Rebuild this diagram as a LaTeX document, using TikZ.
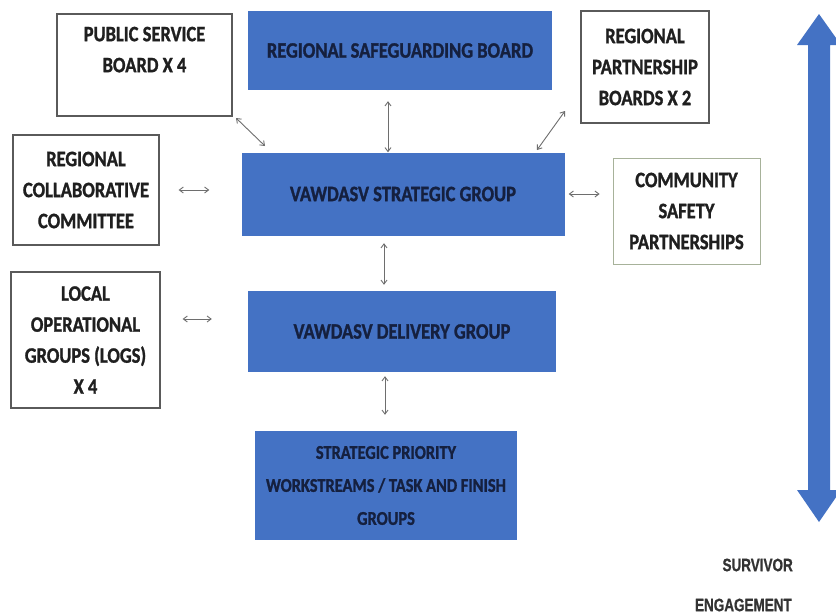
\documentclass[tikz,border=0pt]{standalone}
\usepackage{fontspec}
\setmainfont{Carlito}
\newfontfamily\boxfont[FakeStretch=0.84,FakeBold=1.2]{Carlito}
\newfontfamily\lblfont[FakeStretch=0.75,FakeBold=0.8]{Liberation Sans}
\usetikzlibrary{arrows.meta}
\definecolor{boxblue}{HTML}{4472C4}
\definecolor{navy}{HTML}{15203F}
\definecolor{edgegray}{HTML}{5A5A5A}
\definecolor{linkgray}{HTML}{6E6E6E}
\definecolor{cspedge}{HTML}{A7B29A}
\begin{document}
\begin{tikzpicture}[x=1pt,y=-1pt,
  bluebox/.style={rectangle, fill=boxblue, draw=none, align=center, text=navy,
    font=\boxfont\bfseries\fontsize{22}{31}\selectfont, inner sep=0pt},
  whitebox/.style={rectangle, fill=white, draw=edgegray, line width=1.3pt, align=center, text=black!88,
    font=\boxfont\bfseries\fontsize{22}{31}\selectfont, inner sep=0pt},
  link/.style={draw=linkgray, line width=0.9pt, {Straight Barb[length=4pt,width=6pt]}-{Straight Barb[length=4pt,width=6pt]}},
  lbl/.style={font=\lblfont\bfseries\fontsize{18}{20}\selectfont, text=black!80, inner sep=0pt}
]
\useasboundingbox (0,0) rectangle (836,614);
\fill[white] (0,0) rectangle (836,614);

% blue boxes
\node[bluebox, minimum width=304pt, minimum height=79pt] (rsb) at (400,50.5) {REGIONAL SAFEGUARDING BOARD};
\node[bluebox, minimum width=323pt, minimum height=83pt] (sg) at (403,194) {VAWDASV STRATEGIC GROUP};
\node[bluebox, minimum width=308pt, minimum height=81pt] (del) at (402,331.5) {VAWDASV DELIVERY GROUP};
\node[bluebox, minimum width=262pt, minimum height=109pt, font=\boxfont\bfseries\fontsize{19.5}{33}\selectfont] (sp) at (386,485.5) {STRATEGIC PRIORITY\\WORKSTREAMS / TASK AND FINISH\\GROUPS};

% white boxes
\node[whitebox, minimum width=175pt, minimum height=102pt] (psb) at (144.5,65) {PUBLIC SERVICE\\BOARD X 4\\\mbox{}};
\node[whitebox, minimum width=128pt, minimum height=112pt] (rpb) at (645,67) {REGIONAL\\PARTNERSHIP\\BOARDS X 2};
\node[whitebox, minimum width=146pt, minimum height=110pt] (rcc) at (86,190) {REGIONAL\\COLLABORATIVE\\COMMITTEE};
\node[whitebox, draw=cspedge, line width=0.8pt, minimum width=147pt, minimum height=106pt] (csp) at (686.5,211) {COMMUNITY\\SAFETY\\PARTNERSHIPS};
\node[whitebox, minimum width=149pt, minimum height=136pt] (logs) at (85.5,340) {LOCAL\\OPERATIONAL\\GROUPS (LOGS)\\X 4};

% connectors
\coordinate (p1) at (236,118);
\coordinate (p2) at (265,146);
\draw[link] (p1) -- (p2);
\coordinate (r1) at (565,111);
\coordinate (r2) at (537,150);
\draw[link] (r1) -- (r2);
\draw[link] ([yshift=-11pt]rsb.south -| 388,0) -- (sg.north -| 388,0);
\draw[link] ([yshift=-7.5pt]sg.south -| 384,0) -- ([yshift=6pt]del.north -| 384,0);
\draw[link] ([yshift=-4pt]del.south -| 385,0) -- ([yshift=16pt]sp.north -| 385,0);
\draw[link, shorten <=19pt, shorten >=32pt] (rcc.east) -- (sg.west |- rcc.east);
\draw[link, shorten <=4pt, shorten >=13pt] (sg.east) -- (csp.west |- sg.east);
\draw[link, shorten <=22pt, shorten >=36pt] (logs.east |- 0,319) -- (del.west |- 0,319);

% survivor engagement arrow
\fill[boxblue] (819,14) -- (841,45) -- (830,45) -- (830,490) -- (841,490) -- (819,522)
  -- (797,490) -- (808,490) -- (808,45) -- (797,45) -- cycle;
\node[lbl, anchor=east] (surv) at (793,565) {SURVIVOR};
\node[lbl, anchor=east] (eng) at (792,605) {ENGAGEMENT};
\end{tikzpicture}
\end{document}
